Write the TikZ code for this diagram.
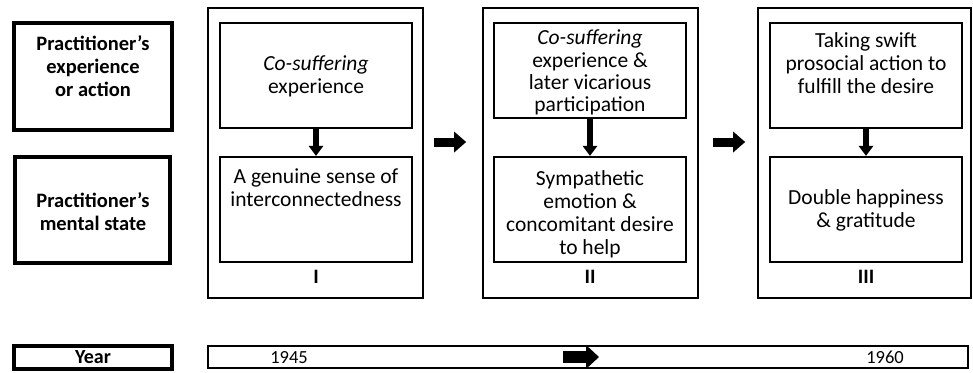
\documentclass[tikz,border=0pt]{standalone}
\usepackage{fontspec}
\setmainfont{Carlito}
\usetikzlibrary{arrows.meta}
\begin{document}
\begin{tikzpicture}[x=1pt,y=-1pt,
  txt/.style={font=\fontsize{21.5}{23}\selectfont, align=center, inner sep=0pt},
  btxt/.style={font=\fontsize{20.5}{23}\selectfont\bfseries, align=center, inner sep=0pt},
  labbox/.style={draw, line width=4pt, inner sep=0pt},
  stagebox/.style={draw, line width=1.8pt, inner sep=0pt},
  inbox/.style={draw, line width=2.4pt, inner sep=0pt},
  downarrow/.style={line width=6pt, -{Triangle[width=15pt,length=10pt,line width=0pt]}},
  stagearrow/.style={line width=9pt, -{Triangle[width=21pt,length=12pt,line width=0pt]}},
  timearrow/.style={line width=12pt, -{Triangle[width=24pt,length=13pt,line width=0pt]}}
]
\useasboundingbox (0,0) rectangle (973,372);
\fill[white] (0,0) rectangle (973,372);

% left labels
\node[labbox, minimum width=158pt, minimum height=107pt] (lab1) at (93,76.5) {};
\node[btxt] (lab1t) at (93,66) {Practitioner’s\\experience\\or action};
\node[labbox, minimum width=155pt, minimum height=106pt] (lab2) at (92.5,210) {};
\node[btxt] (lab2t) at (93,212) {Practitioner’s\\mental state};

% stage boxes
\node[stagebox, minimum width=215pt, minimum height=290pt] (s1) at (315.5,153) {};
\node[stagebox, minimum width=215pt, minimum height=290pt] (s2) at (590.5,153) {};
\node[stagebox, minimum width=213pt, minimum height=290pt] (s3) at (864.5,153) {};

% stage I
\node[inbox, minimum width=192pt, minimum height=105pt] (t1) at (316,75.5) {};
\node[txt] (t1t) at (316,76) {\itshape Co-suffering\\experience};
\node[inbox, minimum width=192pt, minimum height=105pt] (b1) at (316,209.5) {};
\node[txt] (b1t) at (316,188) {A genuine sense of\\interconnectedness};
\node[btxt] (n1) at (316,277) {I};

% stage II
\node[inbox, minimum width=192pt, minimum height=95pt] (t2) at (590,70.5) {};
\node[txt, font=\fontsize{21.5}{22.3}\selectfont] (t2t) at (590,72.5) {\textit{Co-suffering}\\experience \&\\later vicarious\\participation};
\node[inbox, minimum width=192pt, minimum height=105pt] (b2) at (590,209.5) {};
\node[txt] (b2t) at (590,214) {Sympathetic\\emotion \&\\concomitant desire\\to help};
\node[btxt] (n2) at (590,277) {II};

% stage III
\node[inbox, minimum width=192pt, minimum height=105pt] (t3) at (866,75.5) {};
\node[txt] (t3t) at (866,63.5) {Taking swift\\prosocial action to\\fulfill the desire};
\node[inbox, minimum width=192pt, minimum height=105pt] (b3) at (866,209.5) {};
\node[txt] (b3t) at (866,210) {Double happiness\\\& gratitude};
\node[btxt] (n3) at (866,277) {III};

% arrows
\draw[downarrow] (t1.south) -- (b1.north);
\draw[downarrow] (t2.south) -- (b2.north);
\draw[downarrow] (t3.south) -- (b3.north);
\draw[stagearrow, shorten <=10pt, shorten >=16pt] ([yshift=11pt]s1.east) -- ([yshift=11pt]s2.west);
\draw[stagearrow, shorten <=14pt, shorten >=12pt] ([yshift=11pt]s2.east) -- ([yshift=11pt]s3.west);

% year row
\node[labbox, minimum width=158pt, minimum height=23pt] (yr) at (93,357.5) {};
\node[btxt, font=\fontsize{20}{22}\selectfont\bfseries] (yrt) at (93,357.5) {Year};
\node[stagebox, minimum width=760pt, minimum height=22pt] (tl) at (588,357) {};
\node[txt, font=\fontsize{18.5}{20}\selectfont] (y1) at (289,357.5) {1945};
\node[txt, font=\fontsize{18.5}{20}\selectfont] (y2) at (885,357.5) {1960};
\draw[timearrow] ([xshift=-25pt]tl.center) -- ([xshift=11pt]tl.center);
\end{tikzpicture}
\end{document}
